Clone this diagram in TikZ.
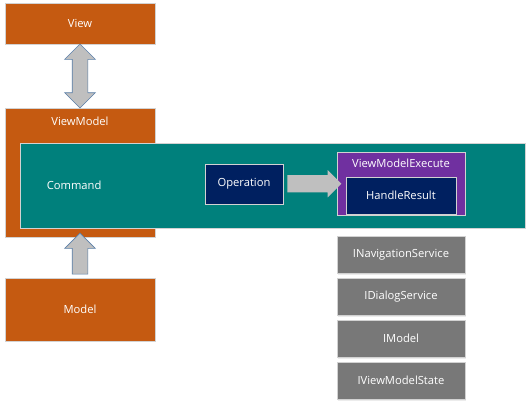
\documentclass[tikz,border=0pt]{standalone}
\usepackage{fontspec}
\setmainfont{Open Sans}
\usetikzlibrary{shapes.arrows,calc,positioning,shadows}
\definecolor{layerorange}{HTML}{C55A11}
\definecolor{cmdteal}{HTML}{00807C}
\definecolor{opnavy}{HTML}{002060}
\definecolor{execpurple}{HTML}{7030A0}
\definecolor{servicegray}{HTML}{787878}
\definecolor{arrowgray}{HTML}{BFBFBF}
\definecolor{arrowedge}{HTML}{5B7FA8}
\tikzset
{
	boxbase/.style   = {rectangle, draw=gray!35, line width=0.8pt, text=white, inner sep=0pt, font=\fontsize{11.2}{13}\selectfont},
	layerbox/.style  = {boxbase, fill=layerorange, minimum width=150pt},
	cmdbox/.style    = {boxbase, fill=cmdteal, minimum width=505pt, minimum height=85pt},
	opbox/.style     = {boxbase, fill=opnavy, minimum width=78pt, minimum height=40pt},
	execbox/.style   = {boxbase, fill=execpurple, minimum width=128pt, minimum height=63pt},
	servicebox/.style= {boxbase, fill=servicegray, minimum width=128pt, minimum height=37pt, drop shadow={opacity=0.15, shadow xshift=1pt, shadow yshift=-1.5pt}},
	boxlabel/.style  = {inner sep=0pt, text=white, font=\fontsize{11.2}{13}\selectfont},
	dblarrow/.style  = {double arrow, double arrow head extend=7.5pt, inner xsep=0pt, inner ysep=7.5pt, fill=arrowgray, draw=arrowedge, line width=0.6pt, rotate=90},
	uparrow/.style   = {single arrow, single arrow head extend=7.5pt, inner xsep=0pt, inner ysep=7.5pt, fill=arrowgray, draw=arrowedge, line width=0.6pt, rotate=90},
	flowarrow/.style = {single arrow, single arrow head extend=5pt, inner xsep=0pt, inner ysep=8.5pt, fill=arrowgray}
}

\begin{document}
\begin{tikzpicture}[x=1pt, y=-1pt]
\useasboundingbox (0,0) rectangle (531,408);
% layers
\node[layerbox, minimum height=41pt] (view) at (80,23.5) {View};
\node[layerbox, minimum height=129pt] (vm) at (80,172.5) {};
\node[boxlabel, below=9pt of vm.north] (vmlabel) {ViewModel};
\node[layerbox, minimum height=63pt] (model) at (80,309.5) {Model};
% command
\node[cmdbox] (cmd) at (272.5,185.5) {};
\node[boxlabel, right=27pt of cmd.west] (cmdlabel) {Command};
\node[opbox] (op) at (244,184) {Operation};
\node[execbox] (exec) at (401,183.5) {};
\node[boxlabel, below=7pt of exec.north] (execlabel) {ViewModelExecute};
\node[opbox, minimum width=110pt, minimum height=37pt] (handle) at (401,195.5) {HandleResult};
% services
\node[servicebox] (nav) at (401,254.5) {INavigationService};
\node[servicebox] (dialog) at (401,296.5) {IDialogService};
\node[servicebox] (imodel) at (401,338.5) {IModel};
\node[servicebox] (vmstate) at (401,380.5) {IViewModelState};
% arrows
\node[dblarrow, minimum height=64pt] (viewlink) at ($(view.south)!0.5!(vm.north)$) {};
\node[uparrow, minimum height=41pt] (modellink) at ($(model.north)!0.5!(vm.south)$) {};
\node[flowarrow, minimum height=54pt] (oplink) at ($(op.east)!0.5!(exec.west)$) {};
\end{tikzpicture}
\end{document}
